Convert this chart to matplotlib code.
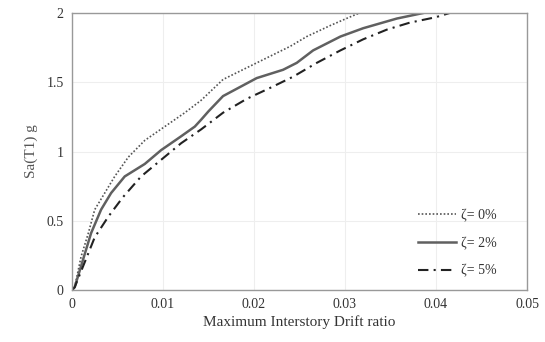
import numpy as np
import matplotlib
matplotlib.use('Agg')
import matplotlib.pyplot as plt

plt.rcParams['font.family'] = ['Liberation Serif', 'DejaVu Serif']

# drift ratio vs Sa(T1)
x0 = [0, 0.0003, 0.001, 0.0018, 0.0025, 0.0036, 0.0047, 0.0062, 0.008, 0.0102, 0.0124,
      0.0142, 0.0166, 0.0203, 0.024, 0.0258, 0.0284, 0.0305, 0.0316]
y0 = [0, 0.02, 0.24, 0.41, 0.58, 0.70, 0.82, 0.96, 1.08, 1.18, 1.28,
      1.37, 1.52, 1.64, 1.76, 1.83, 1.91, 1.97, 2.0]

x2 = [0, 0.0003, 0.0021, 0.0032, 0.0043, 0.0058, 0.008, 0.0098, 0.012, 0.0135, 0.0142,
      0.015, 0.0166, 0.0203, 0.0232, 0.0247, 0.0265, 0.0295, 0.032, 0.0357, 0.0386]
y2 = [0, 0.02, 0.41, 0.58, 0.70, 0.82, 0.91, 1.01, 1.11, 1.18, 1.23,
      1.29, 1.40, 1.53, 1.59, 1.64, 1.73, 1.83, 1.89, 1.96, 2.0]

x5 = [0, 0.0003, 0.0025, 0.004, 0.0056, 0.0076, 0.0098, 0.012, 0.0142, 0.0166, 0.0192,
      0.0218, 0.0243, 0.0269, 0.0295, 0.032, 0.0346, 0.0371, 0.04, 0.0415]
y5 = [0, 0.02, 0.38, 0.53, 0.67, 0.82, 0.94, 1.06, 1.16, 1.28, 1.38,
      1.46, 1.54, 1.64, 1.73, 1.81, 1.88, 1.93, 1.97, 2.0]

labels = ['ζ= 0%', 'ζ= 2%', 'ζ= 5%']

fig = plt.figure(figsize=(5.45, 3.42), dpi=100)
ax = fig.add_axes([0.132, 0.152, 0.835, 0.81])

ax.plot(x0, y0, color='#555555', ls=(0, (1, 1.2)), lw=1.2, label=labels[0])
ax.plot(x2, y2, color='#606060', ls='-', lw=1.8, label=labels[1])
ax.plot(x5, y5, color='#222222', ls=(0, (5, 2.5, 1, 2.5)), lw=1.5, label=labels[2])

ax.set_xlim(0, 0.05)
ax.set_ylim(0, 2)
ax.set_xticks([0, 0.01, 0.02, 0.03, 0.04, 0.05])
ax.set_xticklabels(['0', '0.01', '0.02', '0.03', '0.04', '0.05'])
ax.set_yticks([0, 0.5, 1, 1.5, 2])
ax.set_yticklabels(['0', '0.5', '1', '1.5', '2'])
ax.grid(True, color='#eeeeee', lw=0.8)
ax.set_axisbelow(True)
ax.tick_params(length=0, labelsize=10, colors='#333333', pad=6)
for s in ax.spines.values():
    s.set_color('#999999')
    s.set_linewidth(1.0)

ax.set_xlabel('Maximum Interstory Drift ratio', fontsize=11, color='#333333', labelpad=3)
ax.set_ylabel('Sa(T1) g', fontsize=11, color='#555555', labelpad=6)

leg = ax.legend(loc='lower right', frameon=False, fontsize=10, handlelength=2.7,
                handletextpad=0.4, labelspacing=1.05, bbox_to_anchor=(0.962, 0.0))
for t in leg.get_texts():
    t.set_color('#333333')

fig.savefig('out.png', dpi=100)
